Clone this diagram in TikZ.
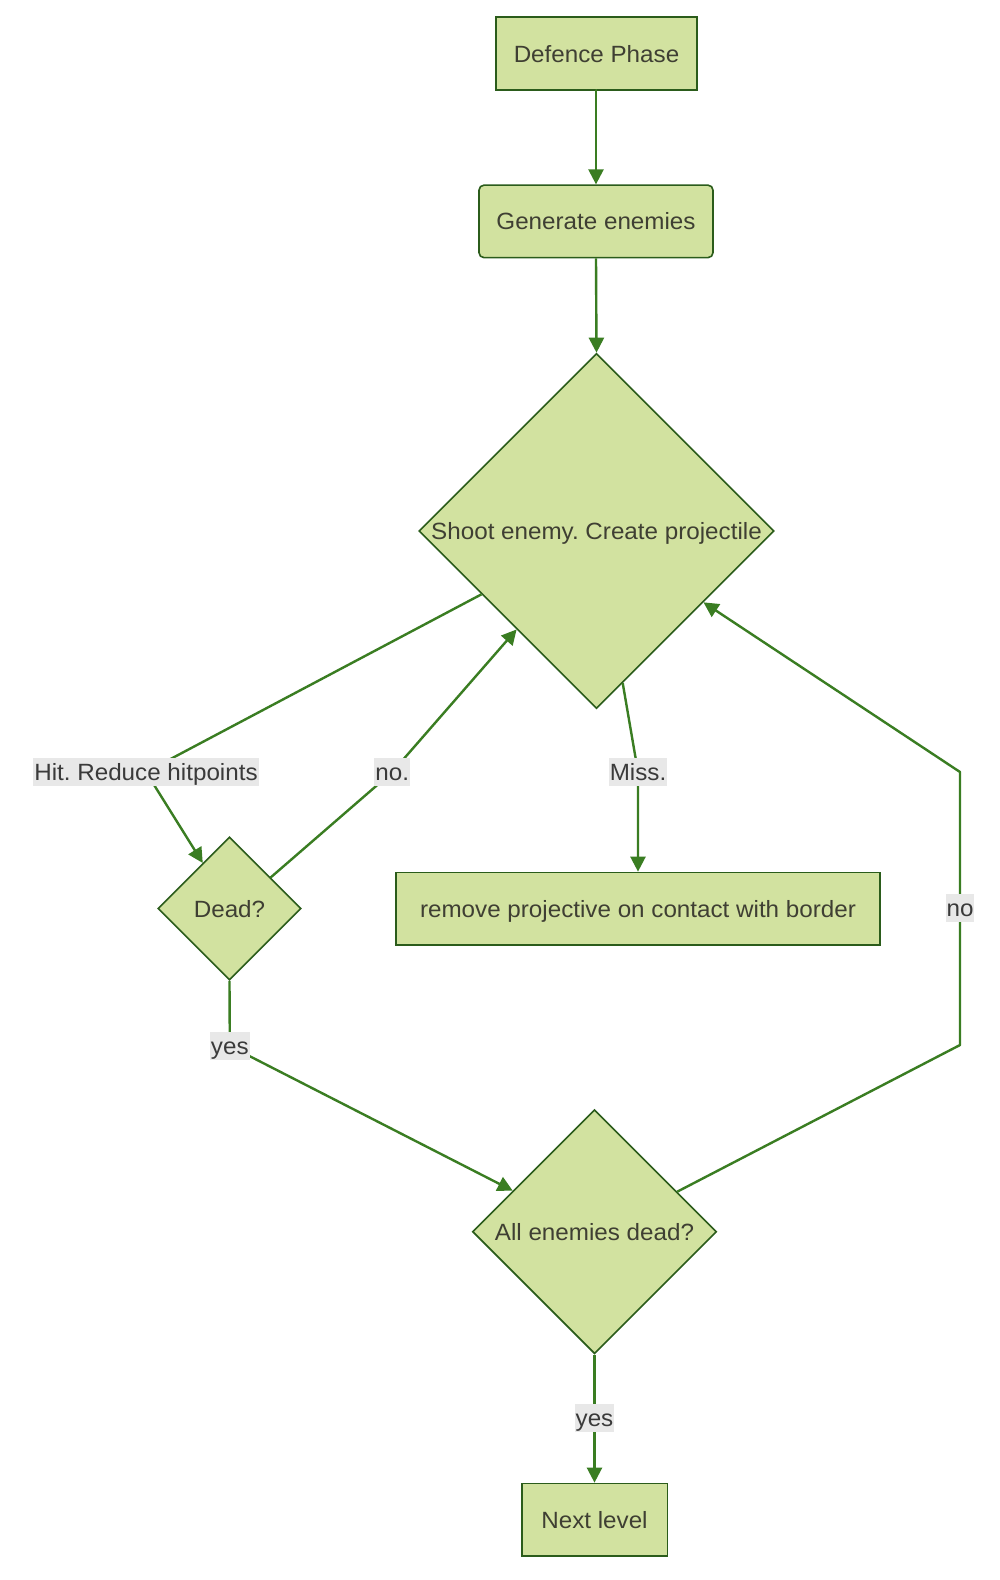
\documentclass[tikz,border=0pt]{standalone}
\usepackage{fontspec}
\setmainfont{Liberation Sans}[FakeStretch=1.03]
\usetikzlibrary{shapes.geometric,arrows.meta,calc}
\definecolor{nodefill}{HTML}{D2E2A0}
\definecolor{nodeline}{HTML}{2B5C1B}
\definecolor{edgeline}{HTML}{3A7D22}
\definecolor{nodetext}{HTML}{3F3F33}
\definecolor{labelbg}{HTML}{E8E8E8}
\definecolor{labeltext}{HTML}{3A3A3A}
\frenchspacing
\begin{document}
\begin{tikzpicture}[x=1pt,y=-1pt,
  font=\fontsize{23.5}{28}\selectfont,
  box/.style={draw=nodeline, fill=nodefill, line width=1.6pt, text=nodetext,
    inner sep=0pt, text height=17pt, text depth=0pt,
    minimum width=#1, minimum height=72.5pt},
  decision/.style={diamond, aspect=1, draw=nodeline, fill=nodefill, line width=1.6pt,
    text=nodetext, inner sep=0pt, text height=17pt, text depth=0pt,
    minimum width=#1, minimum height=#1},
  flow/.style={draw=edgeline, line width=2.4pt, line join=round,
    -{Triangle[length=15pt,width=15pt]}},
  elabel/.style={fill=labelbg, text=labeltext, inner xsep=1pt, inner ysep=0pt,
    text height=17pt, text depth=0pt, minimum height=28pt},
]
\fill[white] (0,0) rectangle (1000,1580);
\useasboundingbox (0,0) rectangle (1000,1580);

% process steps and decisions
\node[box=201pt] (defence) at (596.5,53.5) {Defence Phase};
\node[box=234pt, rounded corners=5pt] (generate) at (596,221.4) {Generate enemies};
\node[decision=355pt] (shoot) at (596.5,531) {Shoot enemy. Create projectile};
\node[decision=143pt] (dead) at (229.5,908.5) {Dead?};
\node[box=484pt] (remove) at (638,908.7) {remove projective on contact with border};
\node[decision=244pt] (all) at (594.5,1231.7) {All enemies dead?};
\node[box=145.6pt] (next) at (594.5,1519.7) {Next level};

% bend points of the connectors (label positions)
\coordinate (hitpt) at (146,772);
\coordinate (nodotpt) at (392.3,772);
\coordinate (misspt) at (638,772);
\coordinate (yesApt) at (229.8,1046);
\coordinate (nolow) at (960,1045);
\coordinate (nopt) at (960,908);
\coordinate (nohigh) at (960,772);
\coordinate (yesBpt) at (594.5,1418);

% connectors
\draw[flow] (defence.south) -- (generate.south |- defence.south) -- (generate.north);
\draw[flow] (generate.south) -- (shoot.north);
\draw[flow] ($(shoot.west)!0.355!(shoot.south)$) -- (hitpt) -- ($(dead.west)!0.63!(dead.north)$);
\draw[flow] ($(dead.north)!0.57!(dead.east)$) -- (nodotpt) -- ($(shoot.west)!0.552!(shoot.south)$);
\draw[flow] ($(shoot.south)!0.147!(shoot.east)$) -- (misspt) -- (remove.north);
\draw[flow] (dead.south) -- (yesApt) -- ($(all.west)!0.334!(all.north)$);
\draw[flow] ($(all.north)!0.674!(all.east)$) -- (nolow) -- (nopt) -- (nohigh) -- ($(shoot.south)!0.60!(shoot.east)$);
\draw[flow] (all.south) -- (yesBpt) -- (next.north);

% connector labels
\node[elabel] at (hitpt) {Hit. Reduce hitpoints};
\node[elabel] at (nodotpt) {no.};
\node[elabel] at (misspt) {Miss.};
\node[elabel] at (yesApt) {yes};
\node[elabel] at (nopt) {no};
\node[elabel] at (yesBpt) {yes};
\end{tikzpicture}
\end{document}
